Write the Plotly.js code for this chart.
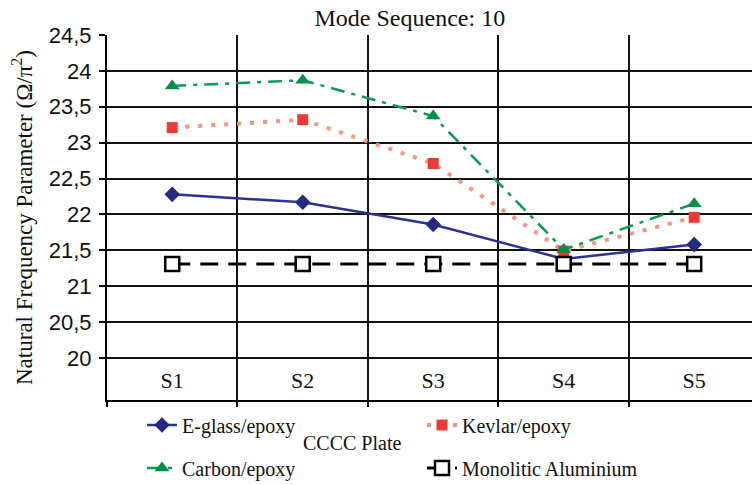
<!DOCTYPE html>
<html>
<head>
<meta charset="utf-8">
<script src="https://cdn.plot.ly/plotly-3.0.1.min.js"></script>
<style>html,body{margin:0;padding:0;background:#fff;}#chart{width:752px;height:485px;}</style>
</head>
<body>
<div id="chart"></div>
<script>
var categories = ["S1", "S2", "S3", "S4", "S5"];
var eglass = [22.28, 22.17, 21.86, 21.38, 21.58];
var kevlar = [23.21, 23.32, 22.71, 21.49, 21.96];
var carbon = [23.79, 23.87, 23.37, 21.51, 22.15];
var aluminium = [21.31, 21.31, 21.31, 21.31, 21.31];
var yTickVals = [20, 20.5, 21, 21.5, 22, 22.5, 23, 23.5, 24, 24.5];
var seriesNames = ["E-glass/epoxy", "Kevlar/epoxy", "Carbon/epoxy", "Monolitic Aluminium"];

var serif = "Liberation Serif, Times New Roman, serif";
var sans = "Liberation Sans, Arial, sans-serif";

var traces = [
  {x: categories, y: eglass, name: seriesNames[0], type: "scatter", mode: "lines+markers", legend: "legend",
   line: {color: "#2E3192", width: 2.5},
   marker: {symbol: "diamond", size: 12, color: "#242A80"}},
  {x: categories, y: kevlar, name: seriesNames[1], type: "scatter", mode: "lines+markers", legend: "legend",
   line: {color: "#F7937E", width: 4, dash: "4px,9px"},
   marker: {symbol: "square", size: 11, color: "#EE3A36"}},
  {x: categories, y: carbon, name: seriesNames[2], type: "scatter", mode: "lines+markers", legend: "legend2",
   line: {color: "#0B9A52", width: 2.5, dash: "14px,7px,4px,7px"},
   marker: {symbol: "triangle-up", size: 13, color: "#049048"}},
  {x: categories, y: aluminium, name: seriesNames[3], type: "scatter", mode: "lines+markers", legend: "legend2",
   line: {color: "#000000", width: 3, dash: "18px,10px"},
   marker: {symbol: "square", size: 14, color: "#ffffff", line: {color: "#000000", width: 2.5}}}
];

var legendCommon = {
  orientation: "h", xref: "container", yref: "container", xanchor: "left", yanchor: "middle",
  font: {family: serif, size: 20, color: "#111"}, entrywidth: 235, entrywidthmode: "pixels",
  bgcolor: "rgba(0,0,0,0)", itemclick: false
};

var layout = {
  width: 752, height: 485,
  margin: {l: 107, r: 0, t: 35, b: 85},
  paper_bgcolor: "#ffffff", plot_bgcolor: "#ffffff",
  separators: ", ",
  showlegend: true,
  title: {text: "Mode Sequence: 10", font: {family: serif, size: 24, color: "#111"},
          xref: "container", x: 0.545, xanchor: "center", yref: "container", y: 1 - 18/485, yanchor: "middle"},
  xaxis: {
    type: "category", range: [-0.5, 4.443], tickson: "boundaries",
    showgrid: true, gridcolor: "#111", gridwidth: 2,
    showline: true, linecolor: "#000", linewidth: 2,
    ticks: "outside", ticklen: 5, tickcolor: "#000", tickwidth: 2,
    ticklabelposition: "inside", ticklabelstandoff: 9,
    tickfont: {family: serif, size: 22, color: "#111"},
    zeroline: false, fixedrange: true
  },
  yaxis: {
    range: [19.415, 24.5], tickvals: yTickVals,
    showgrid: true, gridcolor: "#111", gridwidth: 2,
    showline: true, linecolor: "#000", linewidth: 2,
    ticks: "outside", ticklen: 6, tickcolor: "#000", tickwidth: 2,
    ticklabelstandoff: 3,
    tickfont: {family: sans, size: 22, color: "#111"},
    zeroline: false, fixedrange: true,
    title: {text: "Natural Frequency Parameter (Ω/π<sup>2</sup>)", font: {family: serif, size: 23, color: "#111"}, standoff: 10}
  },
  legend: Object.assign({}, legendCommon, {x: 142/752, y: 1 - 425/485}),
  legend2: Object.assign({}, legendCommon, {x: 142/752, y: 1 - 468/485}),
  annotations: [
    {text: "CCCC Plate", xref: "paper", yref: "paper", x: (352-107)/645, y: (400-443)/365,
     xanchor: "center", yanchor: "middle", showarrow: false, font: {family: serif, size: 20, color: "#111"}}
  ]
};

Plotly.newPlot("chart", traces, layout, {displayModeBar: false, staticPlot: true});
</script>
</body>
</html>
